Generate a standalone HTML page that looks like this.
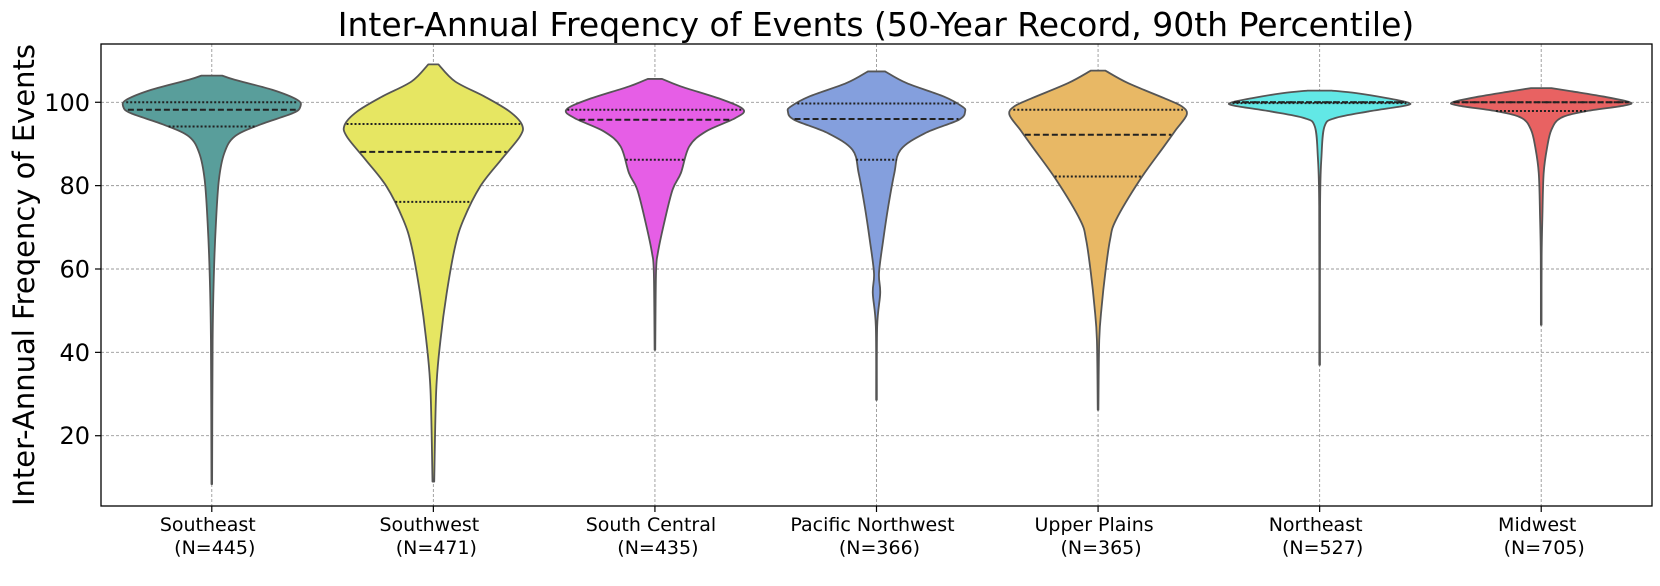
<!DOCTYPE html>
<html><head><meta charset="utf-8"><style>
body{margin:0;background:#fff;}
svg{display:block;font-family:"DejaVu Sans","Liberation Sans",sans-serif;}
</style></head><body>
<svg id="chart" width="1660" height="586" xmlns="http://www.w3.org/2000/svg">
<rect width="1660" height="586" fill="#fff"/>
<text x="876" y="36" font-size="33" text-anchor="middle">Inter-Annual Freqency of Events (50-Year Record, 90th Percentile)</text>
<text transform="translate(34,275) rotate(-90)" font-size="29" text-anchor="middle">Inter-Annual Freqency of Events</text>
<g id="grid"></g>
<g id="violins"></g>
<g id="axes"></g>
</svg>
<script>
const categories = ["Southeast","Southwest","South Central","Pacific Northwest","Upper Plains","Northeast","Midwest"];
const counts = [445,471,435,366,365,527,705];
const colors = ["#599e9b","#e6e662","#e65ee6","#849fdd","#e8b865","#62e8e6","#e86262"];
const yTicks = [20,40,60,80,100];
// density profiles: value levels (top to bottom) and relative density
const profVals = [
 [106.4,105.4,103,100.6,99,97.4,94.6,91.8,87.8,81.4,71,59,43,8.4],
 [109.1,105,101.4,97.8,94.6,91.8,86.2,79.8,71.8,65.4,54.2,43,31,9],
 [105.6,103.8,100.6,98.2,96.2,93,89.4,83,79,71,63.8,59,40.6],
 [107.4,104.6,101.4,99,97.8,95.8,92.6,88.6,83,75,67,59,54.2,46.2,28.6],
 [107.6,104.6,101,99,97,93.4,89.4,81.4,71.8,67,59,51,43,26.2],
 [102.8,102.2,101,99.9,99.2,97.8,96.2,94.2,87,75,37],
 [103.4,102.6,101.4,100,99.2,97.8,96.2,93.4,89.4,83,72.6,63,46.6]
];
const profDens = [
 [9.8,21.6,56.9,80.4,83.5,76.5,45,21.6,11.8,6.7,3.9,2,0.8,0.3],
 [4.7,20.4,47.8,71.4,83.1,81.2,63.5,43.9,28.2,20.4,12.5,6.7,2.7,0.8],
 [6.7,24.3,63.5,83.1,75.3,47.8,32.2,24.3,16.5,8.6,2.7,1,0.3],
 [7.9,27.7,61.7,78.7,81.5,75.7,44.7,22.1,16.4,10.8,6.2,2.3,3.4,0.6,0.3],
 [6.8,28.3,62.3,79.3,83.8,73.6,62.3,39.6,17,11.3,6.8,3.4,1.1,0.3],
 [11.3,34,62.3,82.1,79.3,45.3,14.2,4.5,1.7,0.4,0.3],
 [9.6,29.4,57.7,83.2,77.6,40.8,18.1,9.6,5.7,2.3,1.1,0.4,0.3]
];
const q1 = [94.2,76.1,86.2,86.2,82.2,99.8,97.9];
const medians = [98.2,88.1,95.8,96,92.2,100,100];
const q3 = [100,94.8,98.2,99.7,98.2,100,100];

const NS="http://www.w3.org/2000/svg";
const L=101,R=1652,T=44,B=506,YMAX=113.98,YMIN=3.14;
const step=(R-L)/categories.length;
const xPos=i=>L+step*(i+0.5);
const yPos=v=>T+(YMAX-v)*(B-T)/(YMAX-YMIN);
function mk(tag,attrs,parent){const e=document.createElementNS(NS,tag);for(const k in attrs)e.setAttribute(k,attrs[k]);parent.appendChild(e);return e;}
const grid=document.getElementById('grid'),vg=document.getElementById('violins'),ax=document.getElementById('axes');
yTicks.forEach(t=>{
  const ln=mk('line',{x1:L,x2:R,y1:yPos(t),y2:yPos(t),stroke:'#999','stroke-width':0.9,'stroke-dasharray':'3,2'},grid);
  
  
  const tk=mk('line',{x1:L-6,x2:L,y1:yPos(t),y2:yPos(t),stroke:'#000','stroke-width':1.2},ax);
  
  
  const tx=mk('text',{x:L-11,y:yPos(t)+8.5,'font-size':24,'text-anchor':'end'},ax);
  tx.textContent=t;
  
  
});
categories.forEach((c,i)=>{
  const x=xPos(i);
  const gl=mk('line',{x1:x,x2:x,y1:T,y2:B,stroke:'#999','stroke-width':0.9,'stroke-dasharray':'3,2'},grid);
  
  
  const tk=mk('line',{x1:x,x2:x,y1:B,y2:B+6,stroke:'#000','stroke-width':1.2},ax);
  
  
  const t1=mk('text',{x:x-4,y:531,'font-size':19,'text-anchor':'middle'},ax);
  t1.textContent=c;
  
  
  const t2=mk('text',{x:x+3,y:554,'font-size':19,'text-anchor':'middle'},ax);
  t2.textContent='(N='+counts[i]+')';
  
  

  const vals=profVals[i],dens=profDens[i];
  const mx=Math.max(...dens);
  const hw=d=>0.4*step*d/mx;
  const pts=vals.map((v,k)=>[hw(dens[k]),yPos(v)]);
  function curve(p){let s='';for(let k=0;k<p.length-1;k++){const p0=p[Math.max(0,k-1)],p1=p[k],p2=p[k+1],p3=p[Math.min(p.length-1,k+2)];
    const c1=[p1[0]+(p2[0]-p0[0])/6,p1[1]+(p2[1]-p0[1])/6],c2=[p2[0]-(p3[0]-p1[0])/6,p2[1]-(p3[1]-p1[1])/6];
    s+=`C${c1[0]},${c1[1]} ${c2[0]},${c2[1]} ${p2[0]},${p2[1]} `;}return s;}
  const right=pts.map(p=>[x+p[0],p[1]]);
  const left=pts.slice().reverse().map(p=>[x-p[0],p[1]]);
  const d=`M${right[0][0]},${right[0][1]} `+curve(right)+`L${left[0][0]},${left[0][1]} `+curve(left)+'Z';
  const path=mk('path',{d:d,fill:colors[i],stroke:'#555','stroke-width':1.8,'stroke-linejoin':'round'},vg);
  
  
  function widthAt(v){for(let k=0;k<vals.length-1;k++){if(v<=vals[k]&&v>=vals[k+1]){const f=(vals[k]-v)/(vals[k]-vals[k+1]);return hw(dens[k]+(dens[k+1]-dens[k])*f);}}return 0;}
  [[q1[i],'2,2','quartile-q1'],[q3[i],'2,2','quartile-q3'],[medians[i],'6,3','median-line']].forEach(([v,da,nm])=>{
    const w=widthAt(v)-1;
    const ln=mk('line',{x1:x-w,x2:x+w,y1:yPos(v),y2:yPos(v),stroke:'#222','stroke-width':2,'stroke-dasharray':da},vg);
    
    
  });
});
const fr=mk('rect',{x:L,y:T,width:R-L,height:B-T,fill:'none',stroke:'#000','stroke-width':1.3},ax);


</script>
</body></html>
